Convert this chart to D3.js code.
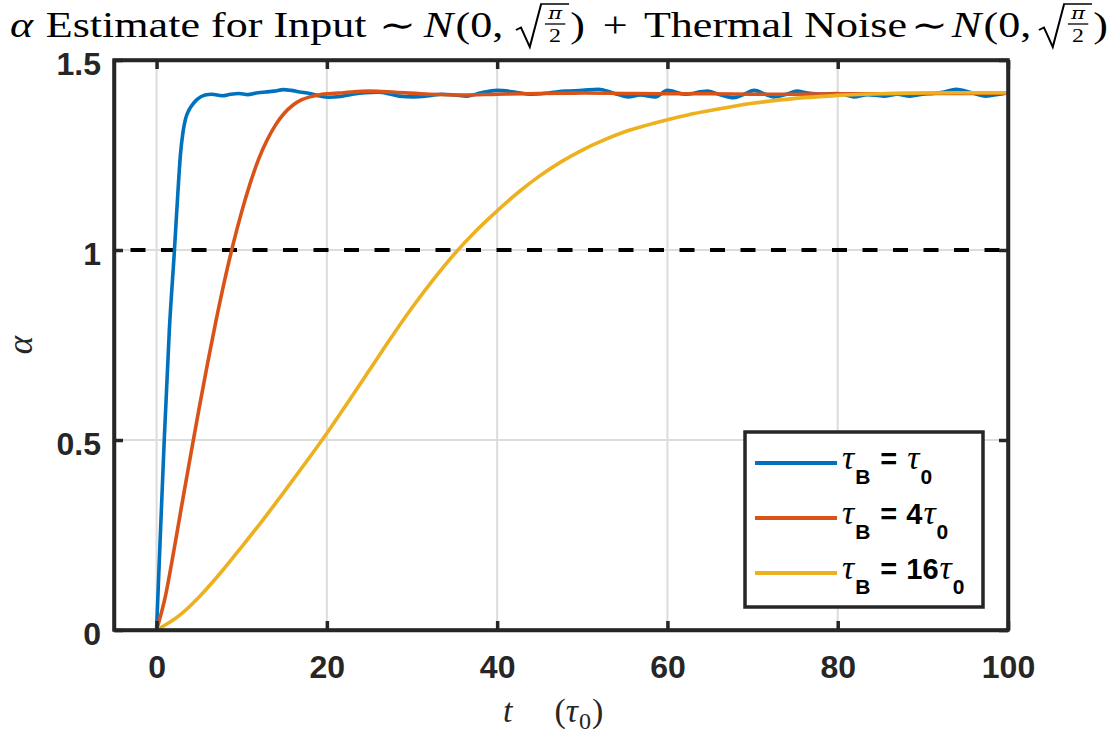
<!DOCTYPE html>
<html>
<head>
<meta charset="utf-8">
<script src="https://cdn.jsdelivr.net/npm/d3@7"></script>
<style>
  body { margin: 0; background: #fff; }
  svg { display: block; }
</style>
</head>
<body>
<svg id="chart" width="1118" height="740"></svg>
<script>
// ---- data -------------------------------------------------------------
const xTicks = [0, 20, 40, 60, 80, 100];
const xTickLabels = ["0", "20", "40", "60", "80", "100"];
const yTicks = [0, 0.5, 1, 1.5];
const yTickLabels = ["0", "0.5", "1", "1.5"];
const referenceLevel = 1;

const seriesColors = ["#0072BD", "#D95319", "#EDB120"];
const seriesFactors = ["", "4", "16"];   // tau_B = factor * tau_0

// [t (tau_0), alpha]
const blueSeries = [
  [0, 0], [0.3, 0.17], [0.9, 0.5], [1.5, 0.79], [2.1, 1.0], [2.5, 1.15], [2.8, 1.25],
  [3.1, 1.31], [3.4, 1.345], [3.8, 1.368], [4.2, 1.382], [4.8, 1.397], [5.7, 1.408],
  [6.5, 1.41], [7.7, 1.406], [8.7, 1.41], [9.7, 1.412], [10.7, 1.409], [11.7, 1.413],
  [12.8, 1.416], [13.8, 1.418], [14.9, 1.422], [15.8, 1.42], [16.8, 1.416], [18, 1.412],
  [19.2, 1.405], [20.2, 1.402], [21.6, 1.404], [23, 1.41], [24.5, 1.414], [26, 1.415],
  [27.5, 1.41], [28.5, 1.405], [30.2, 1.403], [32, 1.406], [33.5, 1.41], [35, 1.408],
  [36.5, 1.405], [38, 1.413], [40, 1.42], [42, 1.416], [44, 1.41], [46, 1.413],
  [48, 1.418], [50, 1.42], [51.9, 1.423], [53.5, 1.414], [55.4, 1.403], [56.8, 1.408],
  [58.6, 1.403], [60, 1.42], [62, 1.41], [64.7, 1.418], [66, 1.41], [67.8, 1.401],
  [69, 1.41], [70.2, 1.42], [71.5, 1.41], [72.5, 1.403], [74, 1.41], [75.2, 1.418],
  [76.5, 1.413], [78, 1.41], [80, 1.412], [81.9, 1.403], [83.5, 1.409], [85.4, 1.405],
  [87, 1.41], [88.5, 1.405], [90, 1.41], [91.2, 1.412], [92.5, 1.416], [93.9, 1.423],
  [95.5, 1.415], [97.4, 1.405], [99, 1.41], [100, 1.414]
];
const redSeries = [
  [0, 0], [1, 0.085], [2, 0.205], [3, 0.334], [4, 0.46], [5, 0.584], [6, 0.703],
  [7, 0.816], [8, 0.921], [9, 1.016], [10, 1.101], [11, 1.176], [12, 1.24], [13, 1.29],
  [14, 1.33], [15, 1.36], [16, 1.381], [17, 1.395], [18, 1.403], [19, 1.408], [20, 1.411],
  [22, 1.414], [25, 1.418], [28, 1.415], [32, 1.41], [36, 1.408], [40, 1.41], [45, 1.412],
  [50, 1.413], [55, 1.412], [60, 1.411], [65, 1.411], [70, 1.41], [75, 1.41], [80, 1.411],
  [85, 1.411], [90, 1.412], [95, 1.412], [100, 1.413]
];
const yellowSeries = [
  [0, 0], [2.5, 0.035], [5, 0.087], [7.5, 0.15], [10, 0.219], [12.5, 0.29], [15, 0.364],
  [17.5, 0.44], [20, 0.518], [22.5, 0.6], [25, 0.684], [27.5, 0.768], [30, 0.848],
  [32.5, 0.922], [35, 0.99], [37.5, 1.05], [40, 1.103], [42.5, 1.152], [45, 1.195],
  [47.5, 1.232], [50, 1.263], [52.5, 1.289], [55, 1.311], [57.5, 1.328], [60, 1.343],
  [62.5, 1.356], [65, 1.367], [67.5, 1.377], [70, 1.386], [72.5, 1.393], [75, 1.399],
  [77.5, 1.403], [80, 1.407], [85, 1.411], [90, 1.413], [95, 1.414], [100, 1.414]
];
const allSeries = [blueSeries, redSeries, yellowSeries];

// ---- setup ------------------------------------------------------------
const svg = d3.select("#chart");
const serif = "'Liberation Serif','DejaVu Serif',serif";
const mathSerif = "'DejaVu Serif','Liberation Serif',serif";
const sans = "'Liberation Sans','Arial','Helvetica',sans-serif";
const axisColor = "#262626";

const x = d3.scaleLinear().domain([-5, 100]).range([114, 1008]);
const y = d3.scaleLinear().domain([0, 1.5]).range([630, 60]);

// ---- grid -------------------------------------------------------------
const grid = svg.append("g").attr("stroke", "#dcdcdc").attr("stroke-width", 2);
grid.selectAll("line.v").data(xTicks.filter(t => t > x.domain()[0] && t < x.domain()[1]))
  .join("line").attr("class", "v")
  .attr("x1", d => x(d)).attr("x2", d => x(d))
  .attr("y1", y.range()[0]).attr("y2", y.range()[1]);
grid.selectAll("line.h").data(yTicks.filter(t => t > y.domain()[0] && t < y.domain()[1]))
  .join("line").attr("class", "h")
  .attr("x1", x.range()[0]).attr("x2", x.range()[1])
  .attr("y1", d => y(d)).attr("y2", d => y(d));

// ---- reference level (dashed) -----------------------------------------
svg.append("line")
  .attr("x1", x(-5)).attr("x2", x(100))
  .attr("y1", y(referenceLevel)).attr("y2", y(referenceLevel))
  .attr("stroke", "#000").attr("stroke-width", 4)
  .attr("stroke-dasharray", "15,15.5").attr("stroke-dashoffset", 14);

// ---- curves -----------------------------------------------------------
const line = d3.line().x(d => x(d[0])).y(d => y(d[1])).curve(d3.curveMonotoneX);
svg.append("g").selectAll("path").data(allSeries).join("path")
  .attr("d", line)
  .attr("fill", "none")
  .attr("stroke", (d, i) => seriesColors[i])
  .attr("stroke-width", 3.6)
  .attr("stroke-linejoin", "round")
  .attr("stroke-linecap", "round");

// ---- axes (box with inward ticks) ------------------------------------
function styleAxis(g, showLabels) {
  g.select(".domain").attr("stroke", axisColor).attr("stroke-width", 3.5);
  g.selectAll(".tick line").attr("stroke", axisColor).attr("stroke-width", 3.5);
  g.selectAll(".tick text")
    .attr("fill", axisColor)
    .attr("font-family", sans)
    .attr("font-weight", "bold")
    .attr("font-size", 32)
    .style("display", showLabels ? null : "none");
  g.attr("font-family", null).attr("font-size", null);
}
const tickLen = 9;
svg.append("g").attr("transform", `translate(0,${y.range()[0]})`)
  .call(d3.axisBottom(x).tickValues(xTicks).tickFormat((d, i) => xTickLabels[i])
    .tickSizeInner(-tickLen).tickSizeOuter(0).tickPadding(25))
  .call(g => styleAxis(g, true));
svg.append("g").attr("transform", `translate(0,${y.range()[1]})`)
  .call(d3.axisTop(x).tickValues(xTicks).tickSizeInner(-tickLen).tickSizeOuter(0))
  .call(g => styleAxis(g, false));
svg.append("g").attr("transform", `translate(${x.range()[0]},0)`)
  .call(d3.axisLeft(y).tickValues(yTicks).tickFormat((d, i) => yTickLabels[i])
    .tickSizeInner(-tickLen).tickSizeOuter(0).tickPadding(13))
  .call(g => styleAxis(g, true))
  .call(g => g.selectAll(".tick text").attr("dy", "0.44em"));
svg.append("g").attr("transform", `translate(${x.range()[1]},0)`)
  .call(d3.axisRight(y).tickValues(yTicks).tickSizeInner(-tickLen).tickSizeOuter(0))
  .call(g => styleAxis(g, false));
// square off the frame corners
svg.append("rect")
  .attr("x", x.range()[0]).attr("y", y.range()[1])
  .attr("width", x.range()[1] - x.range()[0]).attr("height", y.range()[0] - y.range()[1])
  .attr("fill", "none").attr("stroke", axisColor).attr("stroke-width", 3.5);

// ---- axis labels ------------------------------------------------------
svg.append("text")
  .attr("transform", "translate(32,345) rotate(-90)")
  .attr("text-anchor", "middle")
  .attr("font-family", serif).attr("font-style", "italic").attr("font-size", 35)
  .attr("fill", axisColor).text("α");

const xl = svg.append("text").attr("x", 503).attr("y", 722)
  .attr("font-family", serif).attr("font-size", 34).attr("fill", axisColor);
xl.append("tspan").attr("font-style", "italic").text("t");
xl.append("tspan").attr("dx", 42).text("(");
xl.append("tspan").attr("font-style", "italic").text("τ");
xl.append("tspan").attr("font-size", 24).attr("dy", 7).attr("dx", 1).text("0");
xl.append("tspan").attr("dy", -7).attr("dx", 1).text(")");

// ---- legend -----------------------------------------------------------
const lg = svg.append("g");
lg.append("rect").attr("x", 745).attr("y", 432).attr("width", 238).attr("height", 175)
  .attr("fill", "#fff").attr("stroke", axisColor).attr("stroke-width", 3.5);
seriesColors.forEach((c, i) => {
  const ly = 463 + i * 55;
  lg.append("line").attr("x1", 755).attr("x2", 837).attr("y1", ly).attr("y2", ly)
    .attr("stroke", c).attr("stroke-width", 4);
  const t = lg.append("text").attr("x", 842).attr("y", ly + 6)
    .attr("fill", "#000").attr("font-family", sans).attr("font-weight", "bold").attr("font-size", 29);
  t.append("tspan").attr("font-family", serif).attr("font-style", "italic")
    .attr("font-weight", "normal").attr("font-size", 34).text("τ");
  t.append("tspan").attr("font-size", 21).attr("dy", 15).attr("dx", 1).text("B");
  t.append("tspan").attr("dy", -15).attr("dx", 10).text("=");
  if (seriesFactors[i]) t.append("tspan").attr("dx", 9).text(seriesFactors[i]);
  t.append("tspan").attr("dx", seriesFactors[i] ? 1 : 10).attr("font-family", serif)
    .attr("font-style", "italic").attr("font-weight", "normal").attr("font-size", 34).text("τ");
  t.append("tspan").attr("font-size", 21).attr("dy", 15).attr("dx", 1).text("0");
});

// ---- title ------------------------------------------------------------
const tg = svg.append("g");
const base = 37, fs = 35;
let cx = 0;
function word(str, opt = {}) {
  const t = tg.append("text")
    .attr("x", cx + (opt.gap || 0)).attr("y", base + (opt.dy || 0))
    .attr("font-family", serif).attr("font-size", opt.size || fs)
    .attr("font-style", opt.italic ? "italic" : "normal")
    .attr("fill", "#000").text(str);
  cx += (opt.gap || 0) + t.node().getComputedTextLength();
  return t;
}
// square root of the fraction pi/2
function radicalHalfPi(gap) {
  const x0 = cx + gap;
  const pi = tg.append("text").attr("y", 19).attr("font-family", mathSerif)
    .attr("font-style", "italic").attr("font-size", 17).attr("text-anchor", "middle").text("π");
  const two = tg.append("text").attr("y", 42).attr("font-family", serif)
    .attr("font-size", 19).attr("text-anchor", "middle").text("2");
  const fw = Math.max(pi.node().getComputedTextLength(), two.node().getComputedTextLength()) + 5;
  const rx = x0 + 20;
  pi.attr("x", rx + 3 + fw / 2);
  two.attr("x", rx + 3 + fw / 2);
  tg.append("line").attr("x1", rx + 3).attr("x2", rx + 3 + fw).attr("y1", 24).attr("y2", 24)
    .attr("stroke", "#000").attr("stroke-width", 1.3);
  tg.append("path")
    .attr("d", `M${x0},30 L${x0 + 4},27.5 L${x0 + 11},47 L${rx},4 H${rx + fw + 6}`)
    .attr("fill", "none").attr("stroke", "#000").attr("stroke-width", 1.6)
    .attr("stroke-linejoin", "miter");
  cx = rx + fw + 6;
}
word("α", { italic: true });
word("Estimate for Input", { gap: 10 });
word("∼", { gap: 10 });
word("N", { gap: 6, italic: true });
word("(0,", { gap: 2 });
radicalHalfPi(10);
word(")", { gap: 1 });
word("+", { gap: 14 });
word("Thermal Noise", { gap: 13 });
word("∼", { gap: 3 });
word("N", { gap: 3, italic: true });
word("(0,", { gap: 2 });
radicalHalfPi(6);
word(")", { gap: 1 });
const k = 1098 / cx;
tg.attr("transform", `translate(10,0) scale(${k},1)`);
</script>
</body>
</html>
